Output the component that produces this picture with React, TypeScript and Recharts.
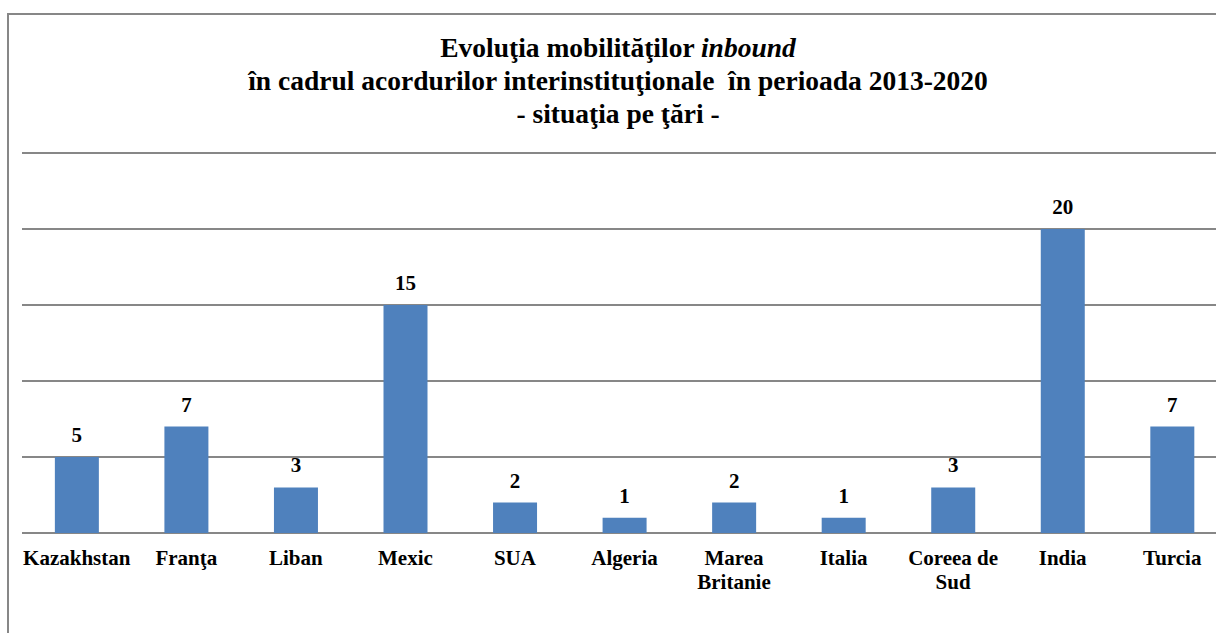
import { BarChart, Bar, XAxis, YAxis, CartesianGrid, LabelList } from "recharts";

const countries = [
  "Kazakhstan",
  "Franţa",
  "Liban",
  "Mexic",
  "SUA",
  "Algeria",
  "Marea\nBritanie",
  "Italia",
  "Coreea de\nSud",
  "India",
  "Turcia",
];
const mobilities = [5, 7, 3, 15, 2, 1, 2, 1, 3, 20, 7];
const yTicks = [0, 5, 10, 15, 20, 25];

const data = countries.map((c, i) => ({ country: c, value: mobilities[i] }));

const FONT = "'Liberation Serif', 'Times New Roman', serif";

function CountryTick(props: any) {
  const { x, y, payload } = props;
  const lines = String(payload.value).split("\n");
  return (
    <text
      x={x}
      y={y}
      textAnchor="middle"
      fontFamily={FONT}
      fontWeight="bold"
      fontSize={21}
      fill="#000"
    >
      {lines.map((l, i) => (
        <tspan key={i} x={x} dy={24}>
          {l}
        </tspan>
      ))}
    </text>
  );
}

export default function App() {
  return (
    <div
      style={{
        position: "relative",
        width: 1216,
        height: 633,
        overflow: "hidden",
        background: "#fff",
      }}
    >
      <style>{"body{margin:0;overflow:hidden}"}</style>
      <div
        style={{
          position: "absolute",
          left: 7,
          top: 13,
          width: 1240,
          height: 660,
          border: "2px solid #878787",
          boxSizing: "border-box",
        }}
      />
      <div
        style={{
          position: "absolute",
          left: 10,
          top: 31,
          width: 1216,
          textAlign: "center",
          fontFamily: FONT,
          fontWeight: "bold",
          fontSize: 27.5,
          lineHeight: "33px",
          whiteSpace: "pre",
          color: "#000",
        }}
      >
        <div>
          Evoluţia mobilităţilor <i>inbound</i>
        </div>
        <div>în cadrul acordurilor interinstituţionale  în perioada 2013-2020</div>
        <div>- situaţia pe ţări -</div>
      </div>
      <div style={{ position: "absolute", left: 0, top: 0 }}>
        <BarChart
          width={1227}
          height={633}
          data={data}
          margin={{ top: 153, right: 0, bottom: 30, left: 22 }}
          barCategoryGap="30%"
        >
          <CartesianGrid vertical={false} stroke="#878787" strokeWidth={2} />
          <XAxis
            dataKey="country"
            height={70}
            axisLine={false}
            tickLine={false}
            interval={0}
            tick={<CountryTick />}
          />
          <YAxis hide domain={[0, 25]} ticks={yTicks} />
          <Bar dataKey="value" fill="#4F81BD" isAnimationActive={false}>
            <LabelList
              dataKey="value"
              position="top"
              offset={15}
              fontFamily={FONT}
              fontWeight="bold"
              fontSize={21}
              fill="#000"
            />
          </Bar>
        </BarChart>
      </div>
    </div>
  );
}
